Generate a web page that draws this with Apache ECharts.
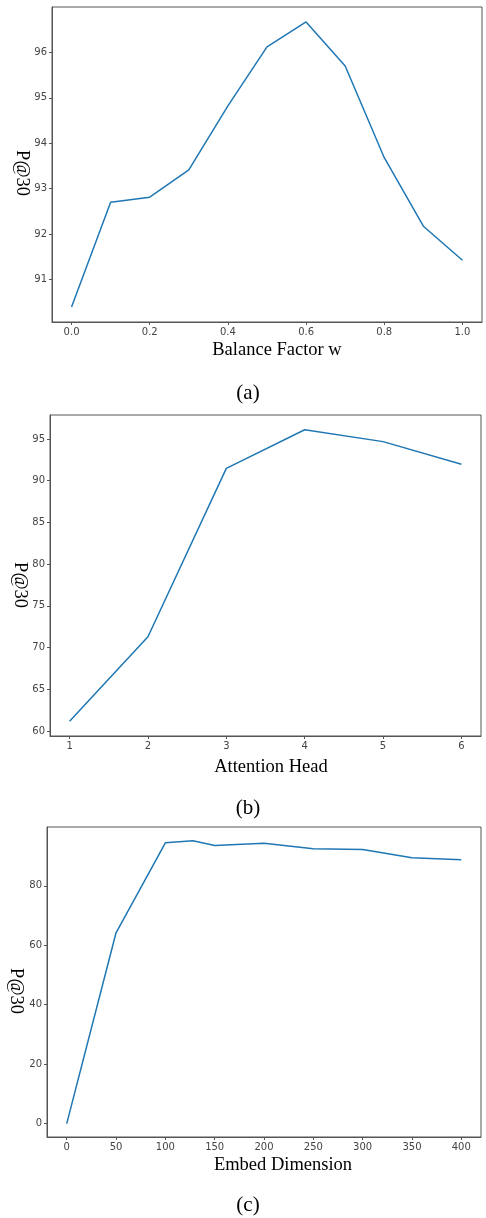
<!DOCTYPE html>
<html>
<head>
<meta charset="utf-8">
<script src="https://cdn.jsdelivr.net/npm/echarts@6/dist/echarts.min.js"></script>
<style>
  html, body { margin: 0; padding: 0; background: #fff; }
  #chart { width: 486px; height: 1218px; }
</style>
</head>
<body>
<div id="chart"></div>
<script>
// (a) balance factor
const balanceX = [0.0, 0.1, 0.2, 0.3, 0.4, 0.5, 0.6, 0.7, 0.8, 0.9, 1.0]
const balanceP = [90.39, 92.70, 92.81, 93.41, 94.82, 96.12, 96.67, 95.70, 93.68, 92.17, 91.42]
const balanceXTicks = [0.0, 0.2, 0.4, 0.6, 0.8, 1.0]
const balanceYTicks = [91, 92, 93, 94, 95, 96]

// (b) attention heads
const headX = [1, 2, 3, 4, 5, 6]
const headP = [61.16, 71.3, 91.48, 96.1, 94.68, 91.96]
const headXTicks = [1, 2, 3, 4, 5, 6]
const headYTicks = [60, 65, 70, 75, 80, 85, 90, 95]

// (c) embed dimension
const dimX = [0, 50, 100, 128, 150, 200, 250, 300, 350, 400]
const dimP = [0, 64.2, 94.47, 95.15, 93.57, 94.37, 92.45, 92.22, 89.42, 88.75]
const dimXTicks = [0, 50, 100, 150, 200, 250, 300, 350, 400]
const dimYTicks = [0, 20, 40, 60, 80]

const LINE = '#1f77b4'
const FRAME = '#555'
const TICK_TEXT = '#444'
const SERIF = '"Liberation Serif", "Times New Roman", serif'

const chart = echarts.init(document.getElementById('chart'))

function xAxis(idx, min, max, ticks, fmt) {
  return {
    type: 'value', gridIndex: idx, min: min, max: max, position: 'bottom',
    axisLine: { show: true, onZero: false, lineStyle: { color: FRAME, width: 1 } },
    axisTick: { show: true, inside: false, length: 3, lineStyle: { color: FRAME }, customValues: ticks },
    axisLabel: { color: TICK_TEXT, fontSize: 10, fontFamily: 'DejaVu Sans', margin: 5, customValues: ticks, formatter: fmt },
    splitLine: { show: false }
  }
}

function yAxis(idx, min, max, ticks) {
  return {
    type: 'value', gridIndex: idx, min: min, max: max, position: 'left',
    axisLine: { show: true, onZero: false, lineStyle: { color: FRAME, width: 1 } },
    axisTick: { show: true, inside: false, length: 3, lineStyle: { color: FRAME }, customValues: ticks },
    axisLabel: { color: TICK_TEXT, fontSize: 10, fontFamily: 'DejaVu Sans', margin: 5, customValues: ticks },
    splitLine: { show: false }
  }
}

function lineSeries(idx, xs, ys) {
  return {
    type: 'line', xAxisIndex: idx, yAxisIndex: idx,
    data: xs.map((x, i) => [x, ys[i]]),
    showSymbol: false, symbol: 'none',
    lineStyle: { color: LINE, width: 1.5 },
    animation: false
  }
}

function text(str, x, y, size, rot) {
  return {
    type: 'text', x: x, y: y, rotation: rot || 0,
    style: { text: str, font: size + 'px ' + SERIF, fill: '#000', align: 'center', verticalAlign: 'middle' }
  }
}

const option = {
  backgroundColor: '#fff',
  animation: false,
  grid: [
    { left: 52, right: 4, top: 7, height: 315, show: true, borderColor: FRAME, borderWidth: 1, backgroundColor: 'transparent' },
    { left: 50, right: 5, top: 415, height: 321, show: true, borderColor: FRAME, borderWidth: 1, backgroundColor: 'transparent' },
    { left: 47, right: 5, top: 827, height: 310, show: true, borderColor: FRAME, borderWidth: 1, backgroundColor: 'transparent' }
  ],
  xAxis: [
    xAxis(0, -0.05, 1.05, balanceXTicks, v => v.toFixed(1)),
    xAxis(1, 0.75, 6.25, headXTicks),
    xAxis(2, -20, 420, dimXTicks)
  ],
  yAxis: [
    yAxis(0, 90.06, 97.0, balanceYTicks),
    yAxis(1, 59.4, 97.87, headYTicks),
    yAxis(2, -4.5, 99.8, dimYTicks)
  ],
  series: [
    lineSeries(0, balanceX, balanceP),
    lineSeries(1, headX, headP),
    lineSeries(2, dimX, dimP)
  ],
  graphic: [
    text('Balance Factor w', 277, 350, 18.5),
    text('(a)', 248, 393, 21),
    text('P@30', 22, 173, 18.5, -Math.PI / 2),
    text('Attention Head', 271, 767, 18.5),
    text('(b)', 248, 808, 21),
    text('P@30', 20, 585, 18.5, -Math.PI / 2),
    text('Embed Dimension', 283, 1165, 18.5),
    text('(c)', 248, 1205, 21),
    text('P@30', 16, 991, 18.5, -Math.PI / 2)
  ]
}

chart.setOption(option)
</script>
</body>
</html>
